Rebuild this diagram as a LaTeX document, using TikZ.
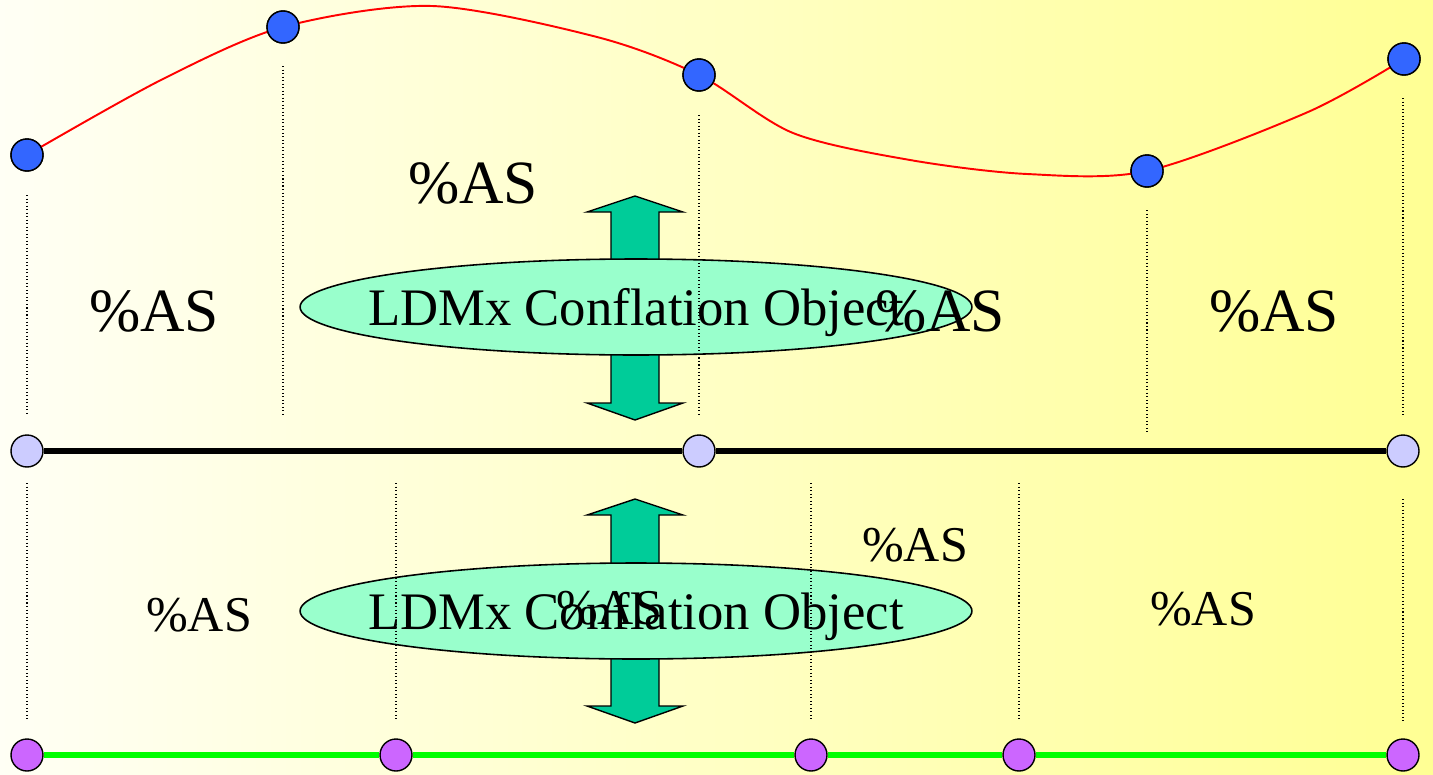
\documentclass[tikz,border=0pt]{standalone}
\usepackage{fontspec}
\setmainfont{Liberation Serif}
\usepackage{xcolor}
\usepackage{tikz}
\usetikzlibrary{shapes.geometric}
\definecolor{dotblue}{HTML}{3366FF}
\definecolor{lavender}{HTML}{CCCCFF}
\definecolor{violetdot}{HTML}{CC66FF}
\definecolor{mint}{HTML}{99FFCC}
\definecolor{tealarrow}{HTML}{00CC99}
\definecolor{limeline}{HTML}{00FF00}

\begin{document}
\begin{tikzpicture}[
  x=0.02cm, y=-0.02cm,
  dot/.style={circle, draw, line width=0.8pt, minimum size=0.64cm, inner sep=0pt},
  topdot/.style={dot, fill=dotblue},
  middot/.style={dot, fill=lavender},
  lowdot/.style={dot, fill=violetdot},
  guide/.style={line width=0.6pt, dash pattern=on 0.6pt off 1.4pt},
  conflation/.style={ellipse, draw, line width=0.9pt, fill=mint, minimum width=13.44cm,
                     minimum height=1.92cm, inner sep=0pt},
  conflabel/.style={inner sep=0pt, text depth=0pt, font=\fontsize{30}{36}\selectfont},
  flow/.style={draw, line width=0.8pt, fill=tealarrow},
  bigpct/.style={anchor=base, inner sep=0pt, font=\fontsize{35}{42}\selectfont},
  smallpct/.style={anchor=base, inner sep=0pt, font=\fontsize{28.5}{34}\selectfont}
]
  \useasboundingbox (0,0) rectangle (1433,774);
  \shade[left color=yellow!4!white, right color=yellow!42!white] (0,0) rectangle (1433,774);

  \foreach \ya/\yb in {196/420, 499/723}
    \draw[flow] (635,\ya) -- (683,\ya+16) -- (659,\ya+16) -- (659,\yb-17) -- (683,\yb-17)
      -- (635,\yb) -- (587,\yb-17) -- (611,\yb-17) -- (611,\ya+16) -- (587,\ya+16) -- cycle;

  \node[conflation] (upper) at (636,307) {};
  \node[conflabel] (uppertext) at (upper) {LDMx Conflation Object};
  \node[conflation] (lower) at (636,611) {};
  \node[conflabel] (lowertext) at (lower) {LDMx Conflation Object};

  \foreach \x/\ya/\yb in {27/195/416, 283/66/416, 699/115/416, 1147/210/432, 1403/98/416,
                          27/483/721, 396/483/721, 811/483/721, 1019/483/721, 1403/499/721}
    \draw[guide] (\x,\ya) -- (\x,\yb);

  \node[bigpct] (as1) at (473,203) {\%AS};
  \node[bigpct] (as2) at (154,331) {\%AS};
  \node[bigpct] (as3) at (940,331) {\%AS};
  \node[bigpct] (as4) at (1274,331) {\%AS};
  \node[smallpct] (as5) at (199,631) {\%AS};
  \node[smallpct] (as6) at (609,624) {\%AS};
  \node[smallpct] (as7) at (915,561) {\%AS};
  \node[smallpct] (as8) at (1203,625) {\%AS};

  \node[topdot] (b1) at (27,155) {};
  \node[topdot] (b2) at (283,27) {};
  \node[topdot] (b3) at (699,75) {};
  \node[topdot] (b4) at (1147,171) {};
  \node[topdot] (b5) at (1404,59) {};
  \draw[red, line width=1.1pt] plot[smooth, tension=0.5] coordinates
    {(b1.center) (161,80) (b2.center) (432,6) (597,37) (b3.center) (793,133) (910,160)
     (1027,174) (b4.center) (1308,112) (b5.center)};
  \foreach \n in {b1,b2,b3,b4,b5}
    \node[topdot] at (\n) {};

  \node[middot] (m1) at (27,451) {};
  \node[middot] (m2) at (699,451) {};
  \node[middot] (m3) at (1403,451) {};
  \draw[line width=3.4pt] (m1) -- (m2) -- (m3);

  \node[lowdot] (g1) at (27,755) {};
  \node[lowdot] (g2) at (396,755) {};
  \node[lowdot] (g3) at (811,755) {};
  \node[lowdot] (g4) at (1019,755) {};
  \node[lowdot] (g5) at (1403,755) {};
  \draw[limeline, line width=3.3pt] (g1) -- (g2) -- (g3) -- (g4) -- (g5);
\end{tikzpicture}
\end{document}
